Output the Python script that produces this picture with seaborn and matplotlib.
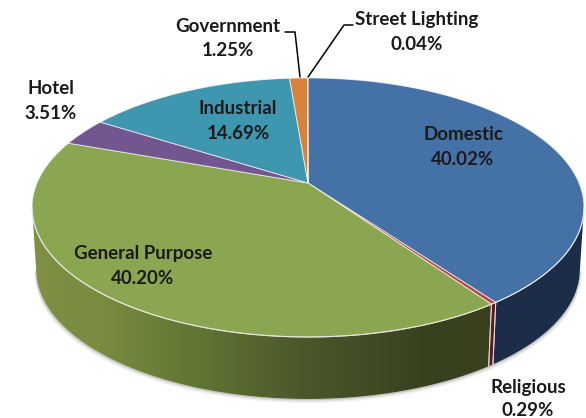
import numpy as np
import matplotlib
matplotlib.use("Agg")
import matplotlib.pyplot as plt
import seaborn as sns
from matplotlib.patches import PathPatch
from matplotlib.path import Path
from matplotlib.transforms import Affine2D, Transform

categories = ["Domestic", "Religious", "General Purpose", "Hotel",
              "Industrial", "Government", "Street Lighting"]
shares = [40.02, 0.29, 40.20, 3.51, 14.69, 1.25, 0.04]
top_colors = ["#4472a6", "#b5484a", "#8aa650", "#72568f",
              "#3f96af", "#d9823b", "#e8eef5"]
label_xy = [(463, 135), (528, 387), (143, 254), (51, 89),
            (238, 109), (228, 26), (417, 20)]

# side shading, (x pixel, rgb) stops, one list per slice
side_shades = {
    "Domestic": [(300, (28, 45, 72)), (586, (28, 45, 72))],
    "Religious": [(300, (95, 25, 32)), (586, (95, 25, 32))],
    "General Purpose": [(30, (128, 144, 68)), (100, (121, 140, 64)),
                        (200, (96, 116, 52)), (300, (76, 88, 42)),
                        (420, (57, 66, 31)), (500, (56, 64, 30))],
}

# pie geometry in pixels
CX, CY = 308, 183
RX, RY = 271, 124.9
TILT = 0.189
DEPTH = 62
FOOT = 0.985


class Tilted(Transform):
    """Unit circle pie seen in perspective, into pixel coordinates."""
    input_dims = output_dims = 2

    def __init__(self, drop=0, shrink=1.0):
        super().__init__()
        self.drop = drop
        self.shrink = shrink

    def transform_non_affine(self, xy):
        x, y = np.asarray(xy).T
        d = 1 + TILT * y
        return np.column_stack([CX + self.shrink * RX * x / d,
                                CY + self.drop - RY * y / d])

    def transform_path_non_affine(self, path):
        flat = Affine2D().scale(1000).transform_path(path).to_polygons(closed_only=False)[0] / 1000
        return Path(self.transform_non_affine(flat), closed=True)


sns.set_theme(style="white")
plt.rcParams["font.family"] = ["Lato", "DejaVu Sans"]

fig = plt.figure(figsize=(5.86, 4.18), dpi=100)
ax = fig.add_axes([0, 0, 1, 1])

wedges, _ = ax.pie(shares, startangle=90, counterclock=False, normalize=True,
                   colors=sns.color_palette(top_colors),
                   wedgeprops={"edgecolor": (1, 1, 1, 0.65), "linewidth": 0.7})
top = Tilted()
foot = Tilted(drop=DEPTH, shrink=FOOT)
for w in wedges:
    w.set_transform(top + ax.transData)
    w.set_zorder(4)

# soft shadow under the foot of the pie
edge_start = -180 + np.degrees(np.arcsin(TILT))
edge_end = -np.degrees(np.arcsin(TILT))
t = np.radians(np.linspace(edge_start, edge_end, 200))
circle = np.column_stack([np.cos(t), np.sin(t)])
for grow, a in [(4, 0.05), (2.5, 0.08), (1.2, 0.12)]:
    low = Tilted(drop=DEPTH + grow, shrink=FOOT + grow / 600).transform_non_affine(circle)
    up = foot.transform_non_affine(circle)[::-1]
    ax.fill(*np.vstack([low, up]).T, color="black", alpha=a, lw=0, zorder=1)

# side walls, one per visible slice
xs = np.arange(0, 587)
for name, w in zip(categories, wedges):
    lo = max(w.theta1, edge_start)
    hi = min(w.theta2, edge_end)
    if hi <= lo:
        continue
    t = np.radians(np.linspace(lo, hi, 120))
    arc = np.column_stack([np.cos(t), np.sin(t)])
    wall = np.vstack([top.transform_non_affine(arc), foot.transform_non_affine(arc)[::-1]])
    clip = PathPatch(Path(wall, closed=False), transform=ax.transData,
                     facecolor="none", edgecolor="none")
    ax.add_patch(clip)
    stops = side_shades[name]
    px = [s[0] for s in stops]
    rgb = np.array([s[1] for s in stops]) / 255
    shade = np.stack([np.interp(xs, px, rgb[:, i]) for i in range(3)], axis=-1)[None, :, :]
    im = ax.imshow(shade, extent=(0, 586, 418, 0), aspect="auto", zorder=2, interpolation="bilinear")
    im.set_clip_path(clip)
    # light seam between walls
    for side_t in (t[0], t[-1]):
        if edge_start < np.degrees(side_t) < edge_end:
            p = np.array([[np.cos(side_t), np.sin(side_t)]])
            seam = np.vstack([top.transform_non_affine(p), foot.transform_non_affine(p)])
            ax.plot(seam[:, 0], seam[:, 1], color="#d8d8d0", lw=0.7, zorder=3)

# bright rim along the front of the top face
t = np.radians(np.linspace(edge_start, edge_end, 300))
rim = top.transform_non_affine(np.column_stack([np.cos(t), np.sin(t)]))
ax.plot(rim[:, 0], rim[:, 1], color="#e6e6e0", lw=0.8, zorder=5)

for name, share, (x, y) in zip(categories, shares, label_xy):
    ax.text(x, y, name, ha="center", va="center", fontsize=13.5, fontweight="bold",
            color="#1a1a1a", zorder=6)
    ax.text(x, y + 23.5 if name == "Religious" else y + 24.5, f"{share:.2f}%", ha="center",
            va="center", fontsize=13.5, fontweight="bold", color="#1a1a1a", zorder=6)

# leader lines for the two thin slices
ax.plot([285, 295, 300], [32, 32, 77], color="black", lw=1.1, zorder=6)
ax.plot([353, 344, 308], [25, 25, 77], color="black", lw=1.1, zorder=6)

ax.set_aspect("auto")
ax.set_xlim(0, 586)
ax.set_ylim(418, 0)
ax.axis("off")
fig.savefig("out.png", dpi=100)
